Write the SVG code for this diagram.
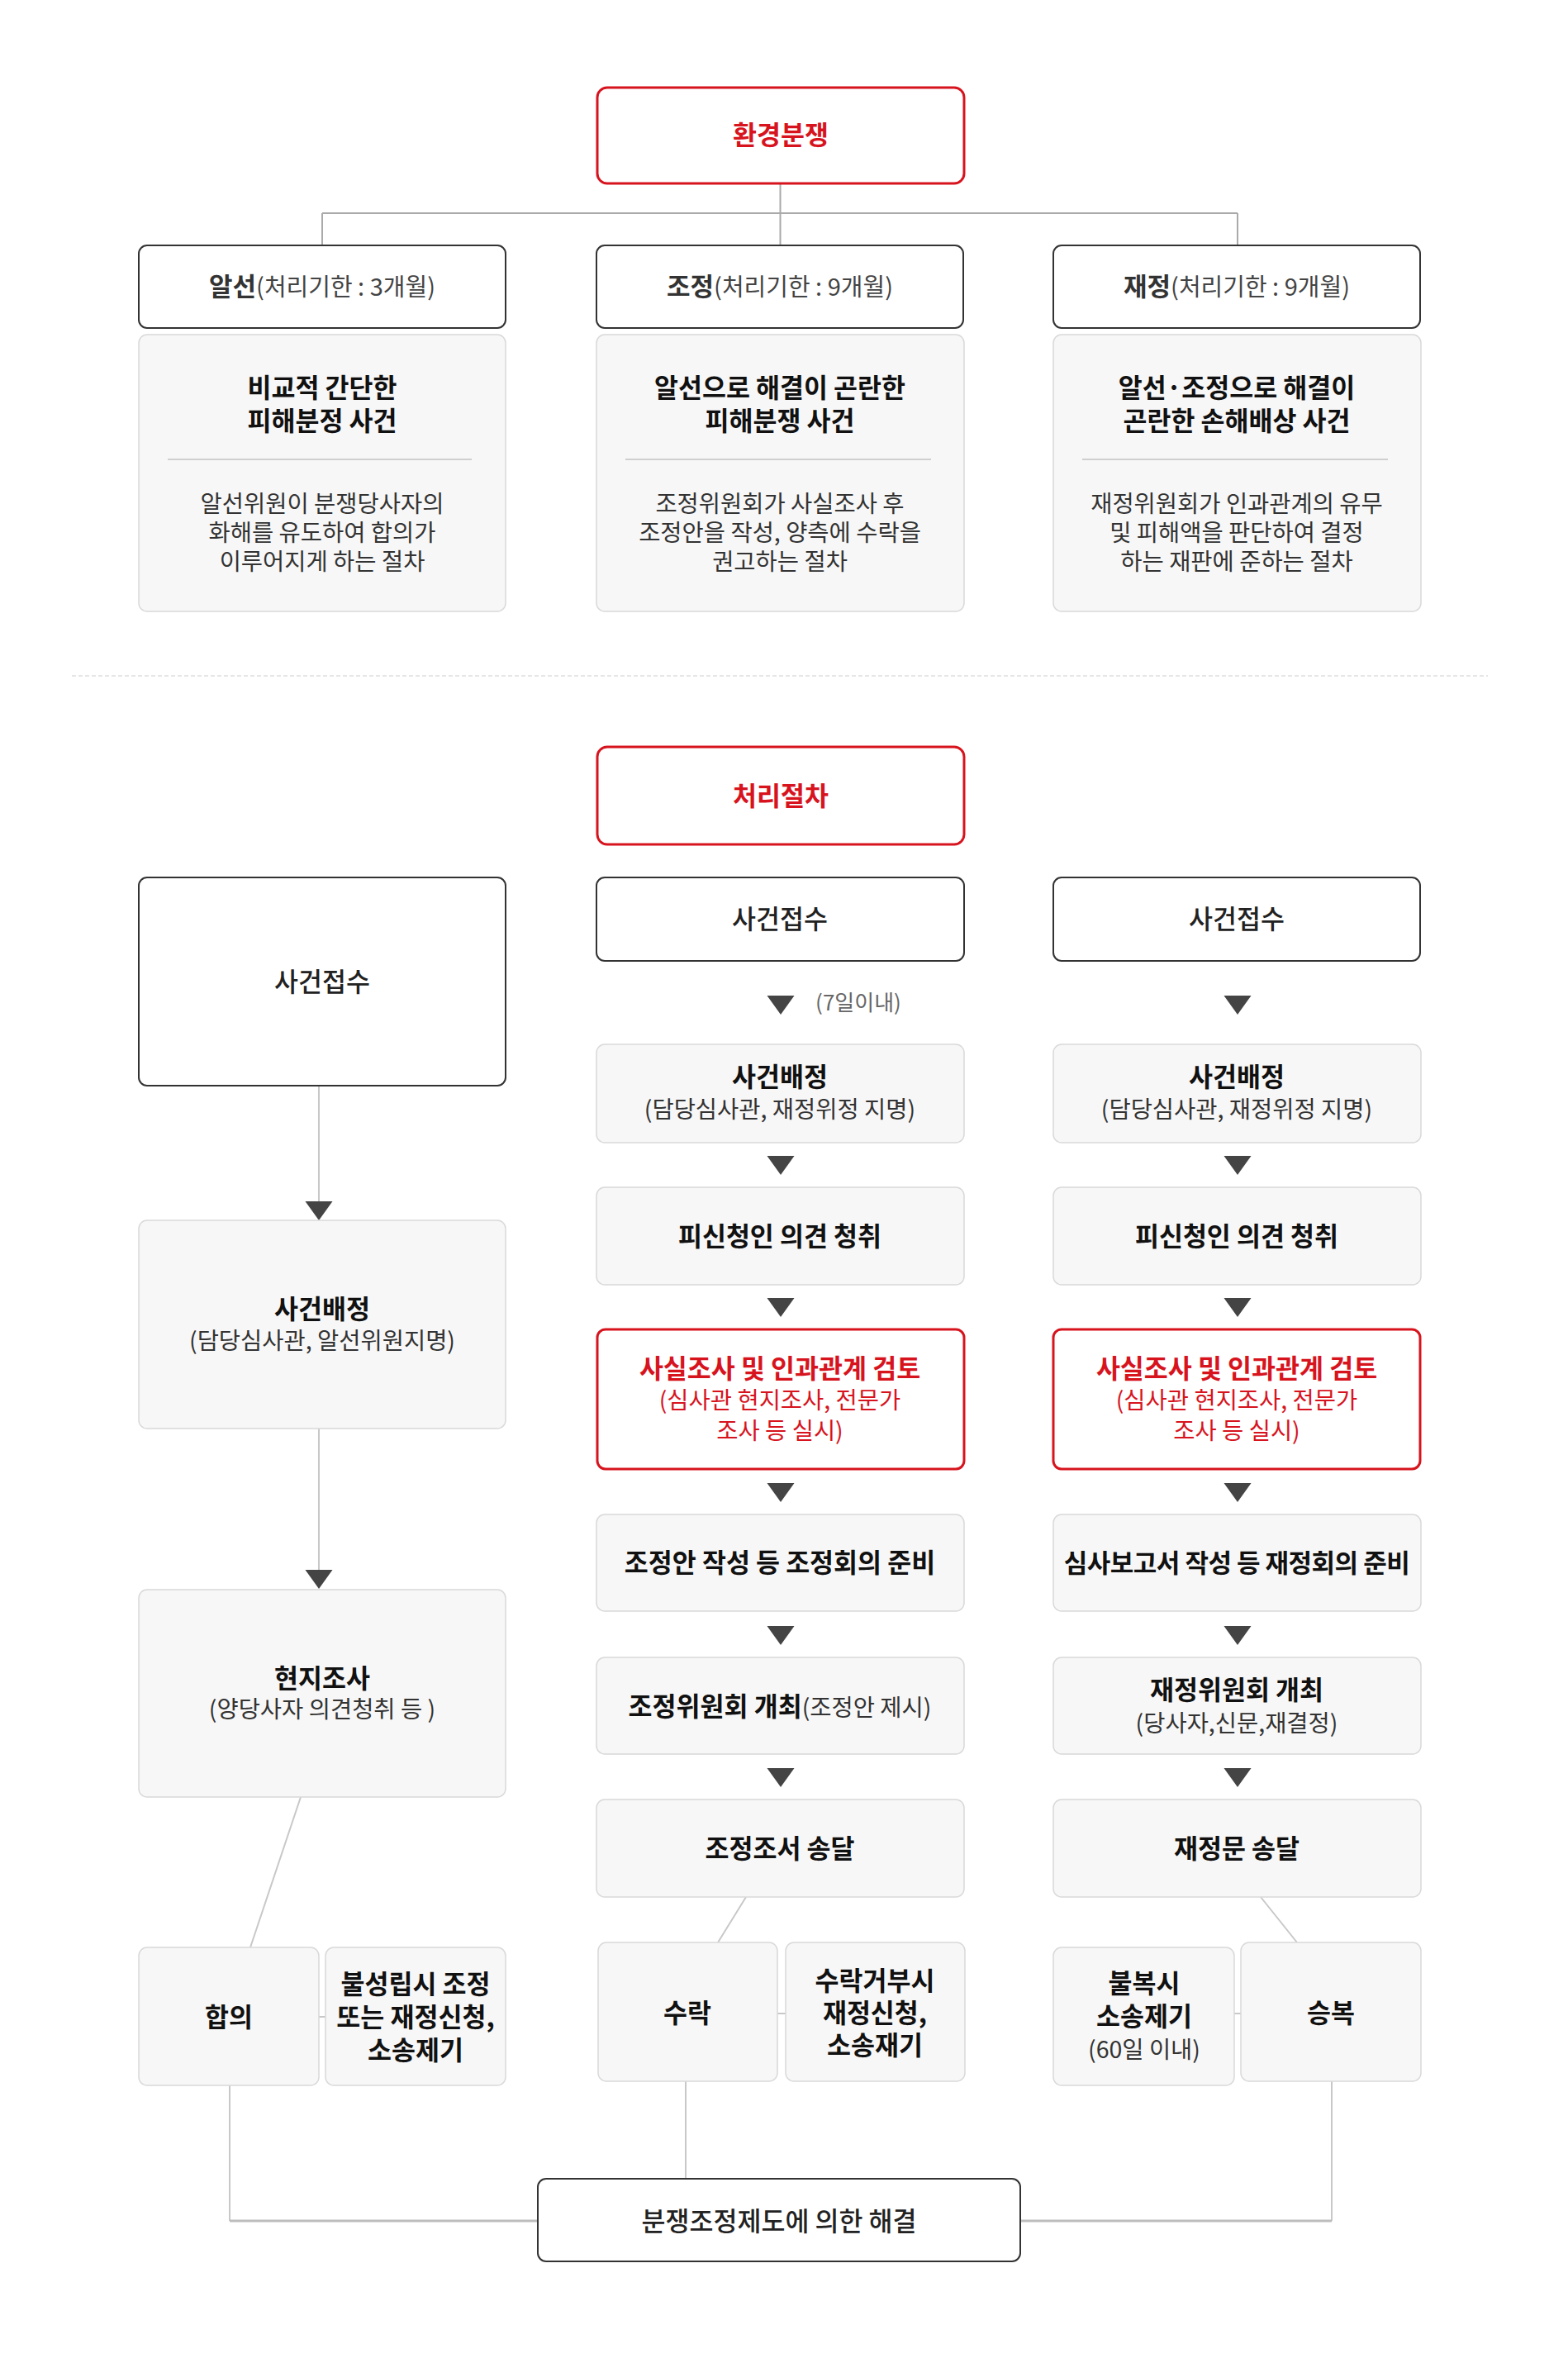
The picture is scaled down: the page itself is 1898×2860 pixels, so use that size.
<svg xmlns="http://www.w3.org/2000/svg" width="1898" height="2860" viewBox="0 0 1898 2860">
<style>
text{font-family:"Noto Sans CJK KR","Noto Sans",sans-serif;text-anchor:middle}
.wbox{fill:#fff;stroke:#333;stroke-width:2}
.gbox{fill:#f7f7f7;stroke:#d9d9d9;stroke-width:1.5}
.rbox{fill:#fff;stroke:#d7141e;stroke-width:3}
.b{font-weight:700;fill:#111;font-size:31.5px}
.n{font-weight:400;fill:#333;font-size:28.5px}
.m{font-weight:500;fill:#222;font-size:31.5px}
.hb{font-weight:700;fill:#333;font-size:31px}
.hn{font-weight:400;fill:#444;font-size:29px}
.red{fill:#d7141e}
.small{font-weight:400;fill:#666;font-size:26px}
.ln{stroke:#c8c8c8;stroke-width:2;fill:none}
.ln3{stroke:#bdbdbd;stroke-width:3;fill:none}
.tree{stroke:#aaa;stroke-width:2;fill:none}
.div{stroke:#cfcfcf;stroke-width:2}
.arr{fill:#444}
</style>
<defs>
<path id="tri" d="M-16.5,0 L16.5,0 L0,23 Z"/>
</defs>

<line x1="87" y1="818" x2="1801" y2="818" stroke="#e6e6e6" stroke-width="2" stroke-dasharray="5 3"/>

<g id="connectors">
<path class="tree" d="M944.5,222 V297 M390,258 H1498 M390,258 V297 M1498,258 V297"/>
<path class="ln" d="M386,1314 V1455 M386,1729 V1901"/>
<path class="ln" d="M364,2175 L303,2357 M903,2296 L869,2351 M1526,2296 L1570,2351"/>
<path class="ln" d="M386,2441 H394 M941,2437 H951 M1494,2437 H1502"/>
<path class="ln" d="M278,2524 V2688 M830,2519 V2637 M1612,2519 V2688"/>
<path class="ln3" d="M278,2688 H651 M1235,2688 H1612"/>
<g class="arr">
<use href="#tri" x="386" y="1454"/>
<use href="#tri" x="386" y="1900"/>
<use href="#tri" x="945" y="1205"/>
<use href="#tri" x="945" y="1399"/>
<use href="#tri" x="945" y="1571"/>
<use href="#tri" x="945" y="1795"/>
<use href="#tri" x="945" y="1968"/>
<use href="#tri" x="945" y="2140"/>
<use href="#tri" x="1498" y="1205"/>
<use href="#tri" x="1498" y="1399"/>
<use href="#tri" x="1498" y="1571"/>
<use href="#tri" x="1498" y="1795"/>
<use href="#tri" x="1498" y="1968"/>
<use href="#tri" x="1498" y="2140"/>
</g>
<text class="small" x="1039" y="1223">(7일이내)</text>
</g>

<g id="n-dispute">
<rect class="rbox" x="723" y="106" width="444" height="116" rx="12"/>
<text class="b red" x="945" y="175">환경분쟁</text>
</g>

<g id="n-h1">
<rect class="wbox" x="168" y="297" width="444" height="100" rx="10"/>
<text x="390" y="358"><tspan class="hb">알선</tspan><tspan class="hn">(처리기한 : 3개월)</tspan></text>
</g>
<g id="n-h2">
<rect class="wbox" x="722" y="297" width="444" height="100" rx="10"/>
<text x="944" y="358"><tspan class="hb">조정</tspan><tspan class="hn">(처리기한 : 9개월)</tspan></text>
</g>
<g id="n-h3">
<rect class="wbox" x="1275" y="297" width="444" height="100" rx="10"/>
<text x="1497" y="358"><tspan class="hb">재정</tspan><tspan class="hn">(처리기한 : 9개월)</tspan></text>
</g>

<g id="n-d1">
<rect class="gbox" x="168" y="405" width="444" height="335" rx="10"/>
<text class="b" x="390" y="481">비교적 간단한</text>
<text class="b" x="390" y="521">피해분정 사건</text>
<line class="div" x1="203" y1="556" x2="571" y2="556"/>
<text class="n" x="390" y="620">알선위원이 분쟁당사자의</text>
<text class="n" x="390" y="655">화해를 유도하여 합의가</text>
<text class="n" x="390" y="690">이루어지게 하는 절차</text>
</g>
<g id="n-d2">
<rect class="gbox" x="722" y="405" width="445" height="335" rx="10"/>
<text class="b" x="944" y="481">알선으로 해결이 곤란한</text>
<text class="b" x="944" y="521">피해분쟁 사건</text>
<line class="div" x1="757" y1="556" x2="1127" y2="556"/>
<text class="n" x="944" y="620">조정위원회가 사실조사 후</text>
<text class="n" x="944" y="655">조정안을 작성, 양측에 수락을</text>
<text class="n" x="944" y="690">권고하는 절차</text>
</g>
<g id="n-d3">
<rect class="gbox" x="1275" y="405" width="445" height="335" rx="10"/>
<text class="b" x="1497" y="481">알선·조정으로 해결이</text>
<text class="b" x="1497" y="521">곤란한 손해배상 사건</text>
<line class="div" x1="1310" y1="556" x2="1680" y2="556"/>
<text class="n" x="1497" y="620">재정위원회가 인과관계의 유무</text>
<text class="n" x="1497" y="655">및 피해액을 판단하여 결정</text>
<text class="n" x="1497" y="690">하는 재판에 준하는 절차</text>
</g>

<g id="n-process">
<rect class="rbox" x="723" y="904" width="444" height="118" rx="12"/>
<text class="b red" x="945" y="975">처리절차</text>
</g>

<g id="n-l1">
<rect class="wbox" x="168" y="1062" width="444" height="252" rx="10"/>
<text class="m" x="390" y="1200">사건접수</text>
</g>
<g id="n-l2">
<rect class="gbox" x="168" y="1477" width="444" height="252" rx="10"/>
<text class="b" x="390" y="1596">사건배정</text>
<text class="n" x="390" y="1633">(담당심사관, 알선위원지명)</text>
</g>
<g id="n-l3">
<rect class="gbox" x="168" y="1924" width="444" height="251" rx="10"/>
<text class="b" x="390" y="2043">현지조사</text>
<text class="n" x="390" y="2079">(양당사자 의견청취 등 )</text>
</g>
<g id="n-l4">
<rect class="gbox" x="168" y="2357" width="218" height="167" rx="10"/>
<text class="b" x="277" y="2453">합의</text>
</g>
<g id="n-l5">
<rect class="gbox" x="394" y="2357" width="218" height="167" rx="10"/>
<text class="b" x="503" y="2413">불성립시 조정</text>
<text class="b" x="503" y="2453">또는 재정신청,</text>
<text class="b" x="503" y="2493">소송제기</text>
</g>

<g id="n-m1">
<rect class="wbox" x="722" y="1062" width="445" height="101" rx="10"/>
<text class="m" x="944" y="1124">사건접수</text>
</g>
<g id="n-m2">
<rect class="gbox" x="722" y="1264" width="445" height="119" rx="10"/>
<text class="b" x="944" y="1315">사건배정</text>
<text class="n" x="944" y="1353">(담당심사관, 재정위정 지명)</text>
</g>
<g id="n-m3">
<rect class="gbox" x="722" y="1437" width="445" height="118" rx="10"/>
<text class="b" x="944" y="1508">피신청인 의견 청취</text>
</g>
<g id="n-m4">
<rect class="rbox" x="723" y="1609" width="444" height="169" rx="10"/>
<text class="b red" x="944" y="1668">사실조사 및 인과관계 검토</text>
<text class="n red" x="944" y="1705">(심사관 현지조사, 전문가</text>
<text class="n red" x="944" y="1742">조사 등 실시)</text>
</g>
<g id="n-m5">
<rect class="gbox" x="722" y="1833" width="445" height="117" rx="10"/>
<text class="b" x="944" y="1903">조정안 작성 등 조정회의 준비</text>
</g>
<g id="n-m6">
<rect class="gbox" x="722" y="2006" width="445" height="117" rx="10"/>
<text x="944" y="2077"><tspan class="b">조정위원회 개최</tspan><tspan class="n">(조정안 제시)</tspan></text>
</g>
<g id="n-m7">
<rect class="gbox" x="722" y="2178" width="445" height="118" rx="10"/>
<text class="b" x="944" y="2249">조정조서 송달</text>
</g>
<g id="n-m8">
<rect class="gbox" x="724" y="2351" width="217" height="168" rx="10"/>
<text class="b" x="832" y="2448">수락</text>
</g>
<g id="n-m9">
<rect class="gbox" x="951" y="2351" width="217" height="168" rx="10"/>
<text class="b" x="1059" y="2409">수락거부시</text>
<text class="b" x="1059" y="2448">재정신청,</text>
<text class="b" x="1059" y="2487">소송재기</text>
</g>

<g id="n-r1">
<rect class="wbox" x="1275" y="1062" width="444" height="101" rx="10"/>
<text class="m" x="1497" y="1124">사건접수</text>
</g>
<g id="n-r2">
<rect class="gbox" x="1275" y="1264" width="445" height="119" rx="10"/>
<text class="b" x="1497" y="1315">사건배정</text>
<text class="n" x="1497" y="1353">(담당심사관, 재정위정 지명)</text>
</g>
<g id="n-r3">
<rect class="gbox" x="1275" y="1437" width="445" height="118" rx="10"/>
<text class="b" x="1497" y="1508">피신청인 의견 청취</text>
</g>
<g id="n-r4">
<rect class="rbox" x="1275" y="1609" width="444" height="169" rx="10"/>
<text class="b red" x="1497" y="1668">사실조사 및 인과관계 검토</text>
<text class="n red" x="1497" y="1705">(심사관 현지조사, 전문가</text>
<text class="n red" x="1497" y="1742">조사 등 실시)</text>
</g>
<g id="n-r5">
<rect class="gbox" x="1275" y="1833" width="445" height="117" rx="10"/>
<text class="b" x="1497" y="1903" style="font-size:31px;letter-spacing:-0.5px">심사보고서 작성 등 재정회의 준비</text>
</g>
<g id="n-r6">
<rect class="gbox" x="1275" y="2006" width="445" height="117" rx="10"/>
<text class="b" x="1497" y="2057">재정위원회 개최</text>
<text class="n" x="1497" y="2096">(당사자,신문,재결정)</text>
</g>
<g id="n-r7">
<rect class="gbox" x="1275" y="2178" width="445" height="118" rx="10"/>
<text class="b" x="1497" y="2249">재정문 송달</text>
</g>
<g id="n-r8">
<rect class="gbox" x="1275" y="2357" width="219" height="167" rx="10"/>
<text class="b" x="1385" y="2412">불복시</text>
<text class="b" x="1385" y="2452">소송제기</text>
<text class="n" x="1385" y="2491">(60일 이내)</text>
</g>
<g id="n-r9">
<rect class="gbox" x="1502" y="2351" width="218" height="168" rx="10"/>
<text class="b" x="1611" y="2448">승복</text>
</g>

<g id="n-final">
<rect class="wbox" x="651" y="2637" width="584" height="100" rx="10"/>
<text class="m" x="943" y="2700">분쟁조정제도에 의한 해결</text>
</g>
</svg>
